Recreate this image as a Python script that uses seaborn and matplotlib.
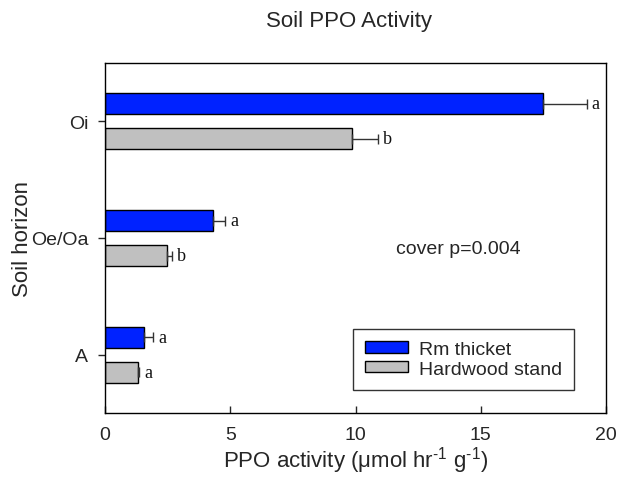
import matplotlib
matplotlib.use("Agg")
import matplotlib.pyplot as plt
import seaborn as sns
import pandas as pd
import numpy as np

horizons = ["Oi", "Oe/Oa", "A"]
covers = ["Rm thicket", "Hardwood stand"]
rm_mean = [17.5, 4.30, 1.57]
rm_err = [1.73, 0.49, 0.36]
hw_mean = [9.85, 2.46, 1.31]
hw_err = [1.06, 0.23, 0.06]
rm_letters = ["a", "a", "a"]
hw_letters = ["b", "b", "a"]
xticks = [0, 5, 10, 15, 20]

df = pd.DataFrame({
    "horizon": horizons * 2,
    "cover": [covers[0]] * 3 + [covers[1]] * 3,
    "value": rm_mean + hw_mean,
})

sns.set_theme(style="white")
plt.rcParams["font.family"] = ["Liberation Sans", "DejaVu Sans"]
plt.rcParams["mathtext.fontset"] = "custom"
plt.rcParams["mathtext.rm"] = "Liberation Sans"
plt.rcParams["mathtext.it"] = "Liberation Sans"

fig = plt.figure(figsize=(6.26, 4.81), dpi=100)
ax = fig.add_axes([105 / 626, 1 - 414 / 481, 501 / 626, 350 / 481])

palette = {covers[0]: "#0022FF", covers[1]: "#C0C0C0"}
sns.barplot(data=df, x="value", y="horizon", hue="cover", order=horizons,
            hue_order=covers, palette=palette, orient="h", width=0.6, gap=0.4,
            edgecolor="black", linewidth=1.0, saturation=1, errorbar=None, ax=ax)

bar_conts = list(ax.containers)
errs = [rm_err, hw_err]
means = [rm_mean, hw_mean]
letters = [rm_letters, hw_letters]
for ci, cont in enumerate(bar_conts):
    for bi, bar in enumerate(cont.patches):
        yc = bar.get_y() + bar.get_height() / 2
        m = means[ci][bi]
        e = errs[ci][bi]
        ax.errorbar(m, yc, xerr=[[0], [e]], fmt="none", ecolor="#333333",
                    elinewidth=1.0, capsize=3.6, capthick=1.0, zorder=1)
        ax.text(m + e + 0.2, yc, letters[ci][bi], ha="left", va="center",
                fontsize=13, family=["Liberation Serif", "DejaVu Serif"], color="#111111")

ax.set_xlim(0, 20)
ax.set_ylim(2.5, -0.5)
ax.set_xticks(xticks)
ax.set_xticklabels([str(t) for t in xticks], fontsize=14)
ax.tick_params(axis="y", labelsize=14, length=5, width=1, direction="out", left=True, pad=7)
ax.tick_params(axis="x", length=5, width=1, direction="in", bottom=True, pad=9)
for s in ax.spines.values():
    s.set_color("black")
    s.set_linewidth(1.0)

ax.set_xlabel(r"PPO activity (μmol hr$^{\text{-}1}$ g$^{\text{-}1}$)", fontsize=16, labelpad=1)
ax.set_ylabel("Soil horizon", fontsize=16)
ax.yaxis.set_label_coords((33 - 105) / 501, 0.5)
fig.text(349 / 626, 1 - 21 / 481, "Soil PPO Activity", ha="center", va="center", fontsize=16)
ax.text(0.705, 0.47, "cover p=0.004", transform=ax.transAxes, ha="center", va="center", fontsize=14)

leg = ax.legend(loc="lower right", bbox_to_anchor=(0.936, 0.066), fontsize=14,
                frameon=True, fancybox=False, handlelength=2.2, handleheight=0.5,
                handletextpad=0.55, labelspacing=0.15, borderpad=0.62, borderaxespad=0)
leg.get_frame().set_edgecolor("black")
leg.get_frame().set_linewidth(1.0)
leg.set_title(None)

fig.savefig("out.png", dpi=100)
